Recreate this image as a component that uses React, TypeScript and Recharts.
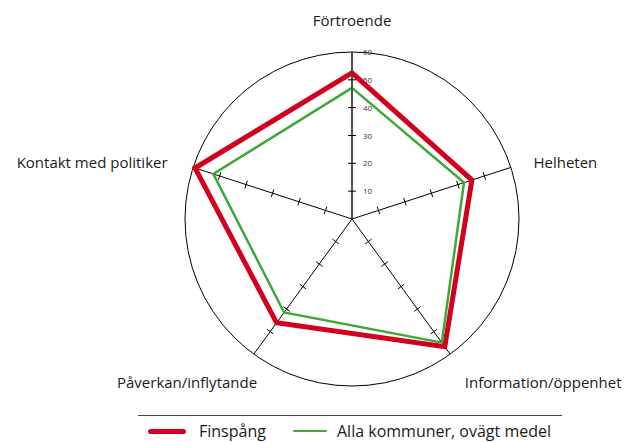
import React from 'react';
import { RadarChart, Radar, PolarGrid, PolarAngleAxis, PolarRadiusAxis, Legend } from 'recharts';

const categories = ['Förtroende', 'Helheten', 'Information/öppenhet', 'Påverkan/inflytande', 'Kontakt med politiker'];
const finspang = [52.5, 45.3, 56.7, 46.1, 59.3];
const allaKommuner = [47.1, 42.3, 54.9, 41.5, 52.4];
const radiusTicks = [0, 10, 20, 30, 40, 50, 60];
const seriesNames = ['Finspång', 'Alla kommuner, ovägt medel'];
const seriesColors = ['#d2001e', '#3ea836'];

const data = categories.map((c, i) => ({ cat: c, a: finspang[i], b: allaKommuner[i] }));

const FONT = '"Open Sans", sans-serif';
const axisAngles = [90, 18, -54, -126, 162];

const labelOffsets = [
  { anchor: 'middle', dx: 0, dy: -18 },
  { anchor: 'start', dx: 15, dy: 3 },
  { anchor: 'start', dx: 10, dy: 27 },
  { anchor: 'end', dx: 8, dy: 27 },
  { anchor: 'end', dx: -18, dy: 3 },
];

const AngleTick = (props: any) => {
  const { x, y, payload, index } = props;
  const o = labelOffsets[index] || labelOffsets[0];
  return (
    <text x={x + o.dx} y={y + o.dy} textAnchor={o.anchor} fontFamily={FONT} fontSize={15} fill="#1a1a1a">
      {payload.value}
    </text>
  );
};

const makeRadiusTick = (angleDeg: number, showLabel: boolean) => (props: any) => {
  const { x, y, payload } = props;
  const v = payload.value;
  if (v === 0) return <g />;
  const a = (angleDeg * Math.PI) / 180;
  const px = Math.sin(a) * 4;
  const py = Math.cos(a) * 4;
  return (
    <g>
      {v < 60 && <line x1={x - px} y1={y - py} x2={x + px} y2={y + py} stroke="#000" strokeWidth={1} fill="none" />}
      {showLabel && (
        <text x={x + 11} y={y + 3} fontFamily={FONT} fontSize={8} fill="#333" stroke="none">
          {v}
        </text>
      )}
    </g>
  );
};

const LegendContent = () => {
  return (
    <div style={{ borderTop: '1px solid #444', width: 424, height: 26, position: 'relative', fontFamily: FONT, fontSize: 16, color: '#1a1a1a' }}>
      {seriesNames.map((name, i) => {
        const left = i === 0 ? 10 : 155;
        const sw = i === 0 ? 38 : 34;
        const th = i === 0 ? 5 : 2;
        return (
          <div key={i} style={{ position: 'absolute', left, top: 4, height: 22, display: 'flex', alignItems: 'center', whiteSpace: 'nowrap' }}>
            <span style={{ display: 'inline-block', width: sw, height: th, background: seriesColors[i], borderRadius: th / 2, marginRight: i === 0 ? 13 : 10 }} />
            <span>{name}</span>
          </div>
        );
      })}
    </div>
  );
};

export default function App() {
  return (
    <div style={{ position: 'absolute', left: 0, top: 0, width: 625, height: 442, background: '#fff' }}>
      <RadarChart
        width={625}
        height={442}
        data={data}
        cx={352}
        cy={219}
        outerRadius={167}
        margin={{ top: 0, right: 0, bottom: 0, left: 0 }}
      >
        <PolarGrid gridType="circle" polarRadius={[167]} stroke="#000" strokeWidth={1} strokeOpacity={1} />
        <PolarAngleAxis dataKey="cat" tick={AngleTick} tickLine={false} axisLine={false} />
        {axisAngles.slice(1).map((ang, i) => (
          <PolarRadiusAxis
            key={`ax${i}`}
            radiusAxisId={`r${i}`}
            angle={ang}
            type="number"
            domain={[0, 60]}
            ticks={radiusTicks}
            axisLine={false}
            tick={makeRadiusTick(ang, false)}
          />
        ))}
        {axisAngles.slice(1).map((ang, i) => (
          <Radar
            key={`hid${i}`}
            radiusAxisId={`r${i}`}
            dataKey="a"
            stroke="none"
            fill="none"
            fillOpacity={0}
            legendType="none"
            isAnimationActive={false}
            dot={false}
          />
        ))}
        <PolarRadiusAxis
          angle={90}
          type="number"
          domain={[0, 60]}
          ticks={radiusTicks}
          axisLine={{ stroke: '#444', strokeWidth: 1.6 }}
          tick={makeRadiusTick(90, true)}
        />
        <Radar
          name={seriesNames[0]}
          dataKey="a"
          stroke={seriesColors[0]}
          strokeWidth={5}
          fill="none"
          fillOpacity={0}
          isAnimationActive={false}
          dot={false}
        />
        <Radar
          name={seriesNames[1]}
          dataKey="b"
          stroke={seriesColors[1]}
          strokeWidth={2.5}
          fill="none"
          fillOpacity={0}
          isAnimationActive={false}
          dot={false}
        />
        <Legend
          content={LegendContent}
          wrapperStyle={{ position: 'absolute', left: 138, top: 415, width: 424, height: 27 }}
        />
      </RadarChart>
    </div>
  );
}
